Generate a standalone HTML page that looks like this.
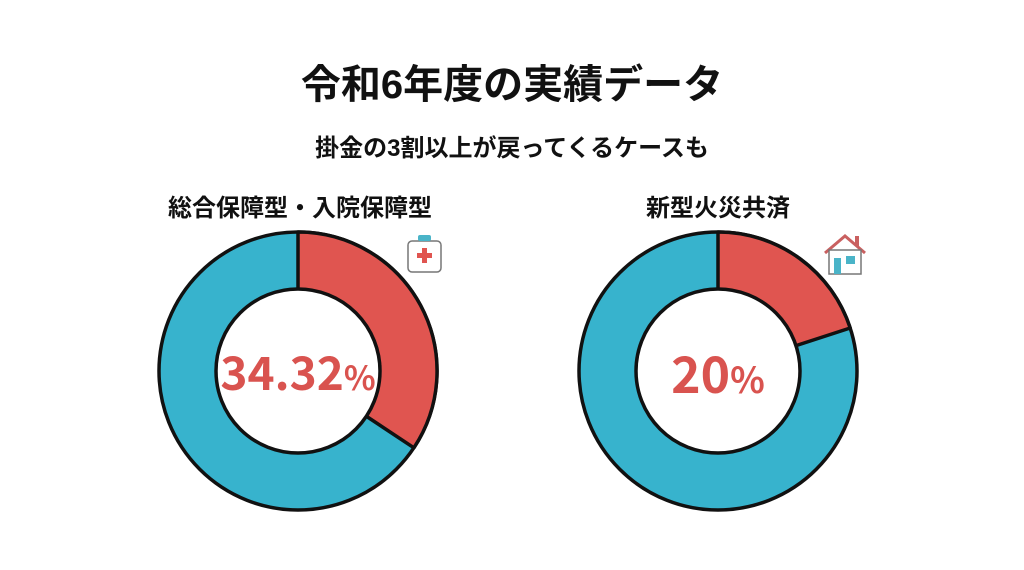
<!DOCTYPE html>
<html><head><meta charset="utf-8"><style>
html,body{margin:0;padding:0;background:#fff;}
body{width:1024px;height:570px;position:relative;overflow:hidden;font-family:"Liberation Sans","Noto Sans CJK JP",sans-serif;color:#111;}
.t{position:absolute;left:0;width:1024px;text-align:center;font-weight:bold;}
</style></head><body>
<div class="t" style="top:52px;font-size:40px;">令和6年度の実績データ</div>
<div class="t" style="top:128px;font-size:24px;">掛金の3割以上が戻ってくるケースも</div>
<div class="t" style="top:188px;font-size:24px;left:150px;width:300px;">総合保障型・入院保障型</div>
<div class="t" style="top:188px;font-size:24px;left:568px;width:300px;">新型火災共済</div>
<svg width="1024" height="570" style="position:absolute;left:0;top:0">
<g stroke="#111" stroke-width="3.5" stroke-linejoin="round">
<circle cx="298" cy="371" r="139" fill="#37b3cd"/>
<path d="M298,371 L298,232 A139,139 0 0,1 413.9,447.8 Z" fill="#e05550"/>
<circle cx="298" cy="371" r="82" fill="#fff"/>
<circle cx="718" cy="371" r="139" fill="#37b3cd"/>
<path d="M718,371 L718,232 A139,139 0 0,1 850.2,328.0 Z" fill="#e05550"/>
<circle cx="718" cy="371" r="82" fill="#fff"/>
</g>
<text x="298" y="390" text-anchor="middle" font-family="Noto Sans CJK JP, Liberation Sans, sans-serif" font-weight="bold" font-size="46" fill="#d9534f">34.32<tspan font-size="33">%</tspan></text>
<text x="718" y="393" text-anchor="middle" font-family="Noto Sans CJK JP, Liberation Sans, sans-serif" font-weight="bold" font-size="50" fill="#d9534f">20<tspan font-size="36">%</tspan></text>
<rect x="408" y="241" width="33" height="31" rx="4" fill="#fff" stroke="#777" stroke-width="1.5"/>
<rect x="418" y="235" width="13" height="6" rx="2" fill="#4ab4c8"/>
<path d="M422,248h5v5h5v5h-5v5h-5v-5h-5v-5h5z" fill="#e05550"/>
<path d="M825,253 L845,236 L865,253" fill="none" stroke="#c96060" stroke-width="3"/>
<rect x="855" y="236" width="4" height="10" fill="#c96060"/>
<rect x="829" y="250" width="32" height="24" fill="#fff" stroke="#777" stroke-width="1.5"/>
<rect x="834" y="258" width="7" height="16" fill="#4ab4c8"/>
<rect x="846" y="256" width="9" height="8" fill="#4ab4c8"/>
</svg>
</body></html>
